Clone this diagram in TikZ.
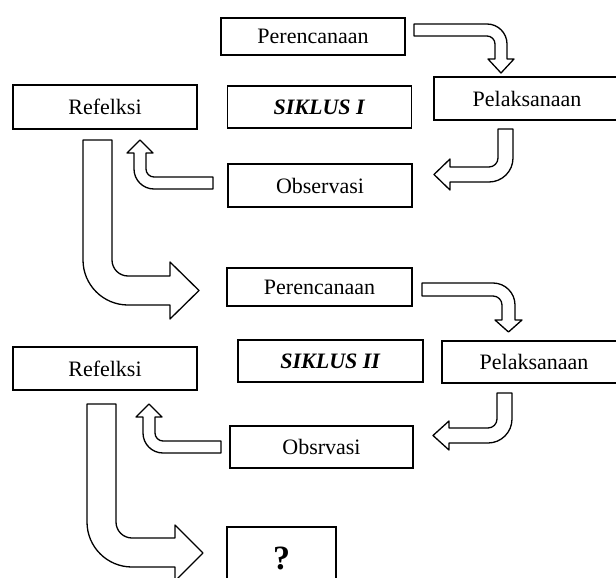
\documentclass[tikz,border=0pt]{standalone}
\usepackage{fontspec}
\setmainfont{Liberation Serif}
\usepackage{tikz}
\usetikzlibrary{
	arrows.meta,
	positioning,
	calc
}

\begin{document}
\begin{tikzpicture}[x=1pt, y=1pt,
		box/.style={draw=black, line width=1.6pt, fill=white, inner sep=0pt,
			minimum width=184pt, font=\fontsize{22}{26}\selectfont},
		blockarrow/.style={draw=black, line width=1.3pt, fill=white, line join=round}]

		\useasboundingbox (0,0) rectangle (616,-578);
		\clip (0,0) rectangle (616,-578);

		\node[box, minimum height=37pt] (Per1) at (313,-36.5) {Perencanaan};
		\node[box, minimum height=44pt] (Ref1) at (105,-107) {Refelksi};
		\node[box, minimum height=42pt] (Sik1) at (319.5,-107) {\textbf{\textit{SIKLUS I}}};
		\node[box, minimum height=43pt, minimum width=186pt] (Pel1) at (527,-98.5) {Pelaksanaan};
		\node[box, minimum height=43pt] (Obs1) at (320,-185.5) {Observasi};

		\node[box, minimum height=38pt, minimum width=185pt] (Per2) at (319.5,-287) {Perencanaan};
		\node[box, minimum height=43pt] (Ref2) at (105,-368.5) {Refelksi};
		\node[box, minimum height=42pt, minimum width=185pt] (Sik2) at (330.5,-361) {\textbf{\textit{SIKLUS II}}};
		\node[box, minimum height=42pt] (Pel2) at (534,-362) {Pelaksanaan};
		\node[box, minimum height=42pt, minimum width=183pt] (Obs2) at (321.5,-447) {Obsrvasi};

		\node[box, minimum height=62pt, minimum width=109pt, font=\fontsize{34}{38}\selectfont\bfseries] (Q) at (281.5,-558) {?};

		\draw[blockarrow] (414,-24) -- (487,-24) arc[start angle=90, end angle=0, radius=20] -- (507,-59) -- (514,-59) -- (501,-73) -- (488,-59) -- (495,-59) -- (495,-44) arc[start angle=0, end angle=90, radius=8] -- (414,-36) -- cycle;
		\draw[blockarrow] (498,-129) -- (513,-129) -- (513,-158) arc[start angle=0, end angle=-90, radius=24] -- (450,-182) -- (450,-190) -- (434,-174.5) -- (450,-159) -- (450,-167) -- (489,-167) arc[start angle=-90, end angle=0, radius=9] -- cycle;
		\draw[blockarrow] (213,-177) -- (154,-177) arc[start angle=-90, end angle=-180, radius=8] -- (146,-153) -- (153,-153) -- (140,-140) -- (127,-153) -- (134,-153) -- (134,-169) arc[start angle=180, end angle=270, radius=20] -- (213,-189) -- cycle;
		\draw[blockarrow] (83,-140) -- (112,-140) -- (112,-260) arc[start angle=180, end angle=270, radius=16] -- (170,-276) -- (170,-262) -- (199,-290.5) -- (170,-319) -- (170,-305) -- (128,-305) arc[start angle=270, end angle=180, radius=45] -- cycle;

		\draw[blockarrow] (422,-283) -- (493,-283) arc[start angle=90, end angle=0, radius=22] -- (515,-320) -- (522,-320) -- (508.5,-332) -- (495,-320) -- (502,-320) -- (502,-305) arc[start angle=0, end angle=90, radius=9] -- (422,-296) -- cycle;
		\draw[blockarrow] (497,-393) -- (512,-393) -- (512,-419) arc[start angle=0, end angle=-90, radius=24] -- (449,-443) -- (449,-450) -- (433,-435.5) -- (449,-421) -- (449,-428) -- (488,-428) arc[start angle=-90, end angle=0, radius=9] -- cycle;
		\draw[blockarrow] (221,-441) -- (163,-441) arc[start angle=-90, end angle=-180, radius=8] -- (155,-417) -- (162,-417) -- (149,-404) -- (136,-417) -- (143,-417) -- (143,-433) arc[start angle=180, end angle=270, radius=20] -- (221,-453) -- cycle;
		\draw[blockarrow] (87,-404) -- (116,-404) -- (116,-522) arc[start angle=180, end angle=270, radius=16] -- (175,-538) -- (175,-525) -- (203,-553) -- (175,-581) -- (175,-567) -- (132,-567) arc[start angle=270, end angle=180, radius=45] -- cycle;

	\end{tikzpicture}
\end{document}
